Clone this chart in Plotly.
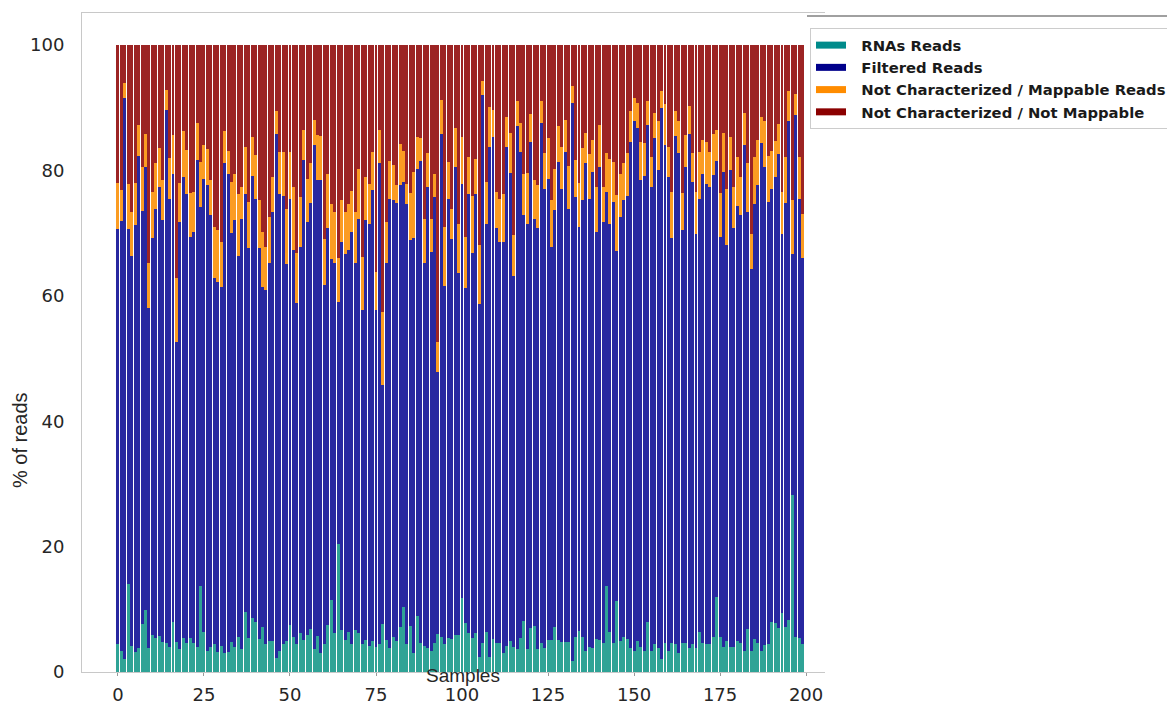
import numpy as np
import plotly.graph_objects as go

# ---- data (cumulative % boundaries per sample) ----
# RNAs Reads (bottom segment height)
rna_reads = [
    4.5, 3.4, 2.0, 14.0, 4.1, 3.2, 3.8, 7.7, 9.9, 3.9,
    5.9, 5.4, 5.7, 4.8, 4.6, 4.0, 7.9, 4.8, 3.6, 5.4,
    4.6, 5.4, 4.6, 4.0, 13.7, 6.4, 3.4, 4.0, 4.5, 3.2,
    4.1, 3.1, 3.2, 4.8, 4.0, 5.6, 3.6, 9.5, 5.4, 8.6,
    7.9, 5.2, 7.2, 4.5, 5.0, 5.0, 2.3, 3.4, 4.5, 5.0,
    7.5, 5.6, 4.5, 6.2, 5.1, 5.9, 6.8, 3.6, 5.7, 3.1,
    4.5, 7.5, 11.5, 6.2, 20.4, 6.7, 5.1,
    6.4, 4.5, 6.7, 6.2, 4.5, 5.1, 4.1, 5.0, 4.0,
    4.5, 7.7, 5.1, 3.9, 5.6, 5.0, 7.2, 10.3, 4.5, 7.3,
    3.1, 8.9, 4.7, 4.1, 3.9, 3.4, 4.6, 6.1, 5.6, 4.5,
    5.5, 5.2, 5.9, 5.9, 11.8, 7.8, 6.2, 5.4, 6.2, 2.4,
    4.6, 6.4, 2.4, 5.2, 4.6, 4.7, 3.1, 4.1, 5.0, 4.0,
    3.6, 5.4, 8.2, 3.6, 7.0, 7.3, 3.6, 4.6, 3.9, 5.1,
    5.1, 7.2, 5.1, 4.8, 4.8, 4.8, 1.8, 5.6, 6.6,
    5.6, 3.4, 4.0, 3.8, 5.2, 5.1, 4.6, 13.7, 6.4, 4.6,
    11.4, 5.0, 5.6, 5.2, 3.8, 3.4,
    5.0, 4.0, 3.4, 8.0, 3.4, 4.5, 3.8, 2.0, 4.6, 3.4,
    4.7, 4.5, 3.1, 4.7, 4.7, 3.8, 4.5, 3.9,
    6.4, 4.7, 4.5, 4.5, 5.6, 12.0, 5.6, 4.0, 5.0, 4.0,
    4.0, 5.0, 4.7, 3.4, 6.8, 3.4, 5.2, 4.7, 3.4, 4.3,
    4.5, 8.0, 7.8, 7.0, 9.4, 7.2, 8.3, 28.2,
    5.6, 5.4, 4.5,
]

# top of the Filtered Reads segment (cumulative %)
filtered_top = [
    70.6, 72.0, 91.5, 70.6, 66.3, 71.3, 82.3, 73.5, 80.5, 58.1,
    69.2, 73.9, 77.3, 72.1, 89.6, 75.4, 79.5, 52.6, 71.7, 79.0,
    76.3, 69.3, 70.1, 81.7, 74.2, 78.7, 77.7, 72.9, 62.8, 62.2,
    61.4, 81.2, 79.5, 70.0, 72.1, 66.3, 72.3, 76.3, 67.6, 79.1,
    75.5, 67.6, 61.4, 60.9, 65.2, 73.3, 85.8, 76.2, 75.9, 65.0,
    75.5, 67.3, 58.8, 67.8, 81.7, 71.8, 74.8, 84.0, 78.5, 78.4,
    61.7, 70.8, 65.8, 65.2, 59.0, 68.6, 66.7, 67.3, 70.2, 65.2,
    72.2, 57.7, 72.1, 71.5, 76.9, 57.7, 81.2, 45.8, 65.2, 75.5,
    75.3, 74.8, 77.7, 78.2, 74.7, 68.9, 69.2, 80.3, 81.5, 65.2,
    77.3, 67.0, 75.8, 47.9, 85.8, 61.5, 75.5, 69.0, 80.5, 63.7,
    77.8, 61.2, 76.2, 66.8, 76.2, 58.7, 92.0, 71.4, 83.8, 85.3,
    70.8, 68.5, 68.5, 83.7, 79.6, 63.1, 87.0, 83.0, 72.9, 71.5,
    84.6, 72.2, 70.8, 87.6, 77.0, 78.7, 67.8, 73.7, 81.4, 77.0,
    83.0, 73.9, 90.7, 75.8, 71.0, 75.3, 81.2, 75.5, 79.8, 70.1,
    80.6, 71.8, 76.6, 71.5, 75.0, 67.2, 72.6, 75.2, 75.9, 84.6,
    87.9, 86.7, 78.5, 79.1, 87.2, 77.3, 85.1, 80.1, 89.9, 84.0,
    79.0, 69.2, 85.5, 82.7, 70.5, 80.6, 85.8, 78.2, 69.8, 75.5,
    79.4, 77.8, 77.3, 79.3, 81.5, 69.3, 79.8, 68.1, 80.1, 70.8,
    74.3, 72.9, 84.0, 73.3, 64.2, 74.7, 77.7, 84.3, 80.5, 75.0,
    77.0, 79.0, 82.6, 69.8, 74.8, 87.8, 66.7, 88.8, 75.4, 66.0,
]

# top of the Not Characterized / Mappable segment (cumulative %)
mappable_top = [
    78.0, 76.9, 93.9, 77.8, 73.3, 78.0, 87.2, 80.6, 85.8, 65.2,
    76.6, 81.1, 83.5, 78.5, 92.8, 81.9, 85.6, 62.8, 78.0, 86.3,
    83.3, 76.4, 76.6, 87.6, 81.4, 84.0, 83.4, 78.5, 71.0, 70.5,
    68.6, 86.3, 83.1, 78.2, 79.5, 76.3, 77.3, 83.8, 75.0, 85.4,
    82.4, 75.3, 70.2, 67.8, 72.6, 79.0, 89.5, 83.0, 83.0, 73.9,
    83.0, 77.3, 66.9, 75.8, 86.4, 78.7, 81.2, 88.1, 85.6, 85.5,
    69.0, 79.5, 74.7, 73.4, 66.1, 75.3, 73.4, 74.7, 76.7, 73.3,
    80.3, 66.2, 79.0, 77.9, 83.0, 63.8, 86.5, 57.4, 71.7, 81.5,
    80.9, 77.7, 84.2, 83.1, 77.9, 76.4, 79.8, 85.3, 85.1, 72.3,
    82.8, 72.2, 79.5, 52.7, 91.3, 71.0, 81.4, 73.9, 86.7, 71.5,
    85.3, 69.4, 82.2, 75.9, 81.8, 68.1, 94.3, 78.2, 90.1, 89.7,
    76.6, 75.5, 76.2, 88.5, 85.9, 69.7, 91.1, 87.5, 79.4, 79.6,
    89.0, 78.4, 77.7, 91.1, 82.8, 85.1, 75.3, 80.3, 87.0, 83.8,
    88.1, 80.7, 93.4, 81.7, 78.0, 83.5, 85.9, 82.6, 84.8, 77.4,
    87.2, 77.3, 82.8, 81.8, 81.4, 76.1, 79.5, 81.2, 82.8, 89.5,
    91.5, 90.7, 84.6, 84.4, 91.1, 82.2, 89.2, 87.9, 92.7, 90.6,
    83.8, 76.6, 89.5, 87.9, 76.4, 85.6, 90.3, 82.8, 76.6, 83.0,
    84.8, 84.6, 83.0, 85.8, 86.4, 76.4, 85.9, 77.0, 85.3, 77.3,
    82.1, 79.0, 89.1, 81.2, 69.8, 82.1, 84.9, 88.5, 87.9, 82.3,
    83.1, 84.7, 87.4, 76.6, 82.2, 92.6, 75.3, 92.2, 82.2, 73.1,
]

total_pct = 100.0
samples = list(range(len(rna_reads)))
x_ticks = [0, 25, 50, 75, 100, 125, 150, 175, 200]
y_ticks = [0, 20, 40, 60, 80, 100]

series_names = ["RNAs Reads", "Filtered Reads",
                "Not Characterized / Mappable Reads",
                "Not Characterized / Not Mappable"]

# segment heights from the read boundaries
rna = np.array(rna_reads)
filt = np.round(np.array(filtered_top) - rna, 2)
mapp = np.round(np.array(mappable_top) - np.array(filtered_top), 2)
notmap = np.round(total_pct - np.array(mappable_top), 2)

bar_colors = ["#2fa396", "#2828a0", "#fb9c22", "#9c2424"]
legend_colors = ["#008b8b", "#00008b", "#ff8c00", "#8b0000"]

fig = go.Figure()
for vals, name, col in zip([rna, filt, mapp, notmap], series_names, bar_colors):
    fig.add_trace(go.Bar(x=samples, y=vals, name=name, marker_color=col,
                         marker_line_width=0, showlegend=False))
for name, col in zip(series_names, legend_colors):
    fig.add_trace(go.Scatter(x=[None], y=[None], mode="lines",
                             name="\u00a0\u00a0" + name,
                             line=dict(color=col, width=7)))

# page body has an 8px offset; work in screen pixels and convert
OFF = 8
L, R, T, B = 82, 825, 13, 672          # plot frame in screen pixels
W, H = 1175 - OFF, 704 - OFF           # figure size
pw, ph = R - L, B - T

fig.update_layout(
    width=W, height=H,
    margin=dict(l=L - OFF, r=W - (R - OFF), t=T - OFF, b=H - (B - OFF), pad=0,
                autoexpand=False),
    barmode="stack", bargap=0.14,
    plot_bgcolor="white", paper_bgcolor="white",
    font=dict(family="DejaVu Sans", color="#262626"),
    legend=dict(x=(810 - L) / pw, y=(B - 28) / ph, xanchor="left", yanchor="top",
                bgcolor="white", bordercolor="#cccccc", borderwidth=1,
                traceorder="normal",
                font=dict(family="DejaVu Sans", size=14.8, color="#1a1a1a",
                          weight="bold"),
                tracegroupgap=0, itemwidth=30),
    xaxis=dict(range=[-10.45, 205.5], tickvals=x_ticks, ticktext=[str(v) for v in x_ticks],
               showgrid=False, zeroline=False, showline=True, mirror=True,
               linecolor="#c8c8c8", linewidth=1, ticks="outside", ticklen=3,
               tickcolor="#999999", tickfont=dict(size=18, family="DejaVu Sans"),
               ticklabelstandoff=3, automargin=False),
    yaxis=dict(range=[0, 105.1], tickvals=y_ticks, ticktext=[str(v) for v in y_ticks],
               showgrid=False, zeroline=False, showline=True, linecolor="#c8c8c8",
               linewidth=1, ticks="", tickfont=dict(size=18, family="DejaVu Sans"),
               ticklabelstandoff=13, automargin=False),
    annotations=[
        dict(text="% of reads", xref="paper", yref="paper",
             x=(20 - L) / pw, y=(B - 440) / ph, textangle=-90, showarrow=False,
             xanchor="center", yanchor="middle",
             font=dict(family="Liberation Sans", size=20, color="#262626")),
        dict(text="Samples", xref="paper", yref="paper",
             x=(463 - L) / pw, y=(B - 675) / ph, showarrow=False,
             xanchor="center", yanchor="middle",
             font=dict(family="Liberation Sans", size=19, color="#262626")),
    ],
    shapes=[
        dict(type="line", xref="paper", yref="paper",
             x0=(807 - L) / pw, x1=(1175 - L) / pw,
             y0=(B - 16) / ph, y1=(B - 16) / ph,
             line=dict(color="#808080", width=1.5)),
    ],
)

fig.write_html("out.html")
